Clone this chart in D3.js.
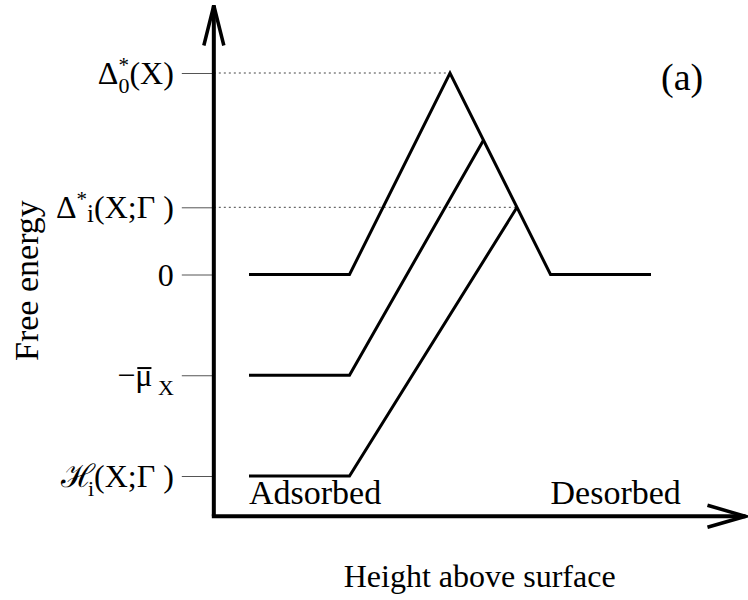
<!DOCTYPE html>
<html>
<head>
<meta charset="utf-8">
<script src="https://cdn.jsdelivr.net/npm/d3@7"></script>
<style>
    body { margin: 0; background: #fff; }
    svg text { font-family: "Liberation Serif", "Times New Roman", serif; fill: #000; }
</style>
</head>
<body>
<svg id="chart" width="748" height="600"></svg>
<script>
//*************************************************
// Data (arbitrary units)
//*************************************************
var profileTopX = [0, 1, 2, 3, 4];
var profileTopY = [0, 0, 2, 0, 0];
var profileMidX = [0, 1, 2.333];
var profileMidY = [-1, -1, 1.333];
var profileLowX = [0, 1, 2.667];
var profileLowY = [-2, -2, 0.667];

// dotted guides from the axis out to a peak
var guideY = [2, 0.667];
var guideX = [2, 2.667];

var tickValues = [2, 0.667, 0, -1, -2];
// each label is a list of [text, role]
var tickLabels = [
    [['Δ', ''], ['*', 'sup'], ['0', 'under'], ['(X)', '']],
    [['Δ', ''], ['*', 'sup'], ['i', 'low'], ['(X;Γ )', '']],
    [['0', '']],
    [['−', ''], ['μ', 'bar'], [' X', 'sub']],
    [['ℋ', ''], ['i', 'tuck'], ['(X;Γ )', '']]
];

var xTitle = 'Height above surface';
var yTitle = 'Free energy';
var leftNote = 'Adsorbed';
var rightNote = 'Desorbed';
var panelTag = '(a)';

function energyChart(){

    //*************************************************
    // Public Variables loaded with default values
    //*************************************************
    var _width = 748;
    var _height = 600;
    var _fontSize = 32;

    function chart(selection){
        selection.each(function (data){
            var svg = d3.select(this);

            var x = d3.scaleLinear().domain([0, 4]).range([249, 651]);
            var y = d3.scaleLinear().domain([-2, 2]).range([476, 73]);

            var axisX0 = x(-0.35);
            var axisX1 = x(4.94);
            var axisY0 = y(-2.4);
            var axisY1 = y(2.67);

            //----------------------------------------------------------------------------------
            // dotted guides
            //----------------------------------------------------------------------------------
            svg.selectAll('.guide').data(guideY).enter().append('line')
                .attr('class', 'guide')
                .attr('x1', axisX0).attr('x2', function (d, i){ return x(guideX[i]); })
                .attr('y1', function (d){ return y(d); }).attr('y2', function (d){ return y(d); })
                .style('stroke', '#444').style('stroke-width', 1).style('stroke-dasharray', '2,3');

            //----------------------------------------------------------------------------------
            // ticks via d3 axis, labels built by hand (sub/superscripts)
            //----------------------------------------------------------------------------------
            var yAxis = d3.axisLeft(y).tickValues(tickValues).tickSize(32).tickFormat('');
            var axisG = svg.append('g')
                .attr('transform', 'translate(' + axisX0 + ',0)')
                .call(yAxis);
            axisG.select('.domain').remove();
            axisG.selectAll('.tick line').style('stroke', '#555').style('stroke-width', 1);

            tickValues.forEach(function (v, i){
                var t = svg.append('text')
                    .attr('x', axisX0 - 40)
                    .attr('y', y(v) + 11)
                    .attr('text-anchor', 'end')
                    .style('font-size', _fontSize + 'px');
                var shift = 0;
                var prev = null;
                var barred = [];
                tickLabels[i].forEach(function (seg){
                    var role = seg[1];
                    var target = 0;
                    var size = _fontSize;
                    if (role === 'sup'){ target = -12; size = 21; }
                    if (role === 'sub' || role === 'under'){ target = 9; size = 22; }
                    if (role === 'tuck'){ target = 9; size = 22; }
                    if (role === 'low'){ target = 4; size = 25; }
                    var ts = t.append('tspan')
                        .attr('dy', target - shift)
                        .style('font-size', size + 'px')
                        .text(seg[0]);
                    if (role === 'under' && prev){
                        ts.attr('dx', -prev.node().getComputedTextLength());
                    }
                    if (role === 'tuck'){
                        ts.attr('dx', -7);
                    }
                    if (role === 'bar'){ barred.push(ts); }
                    shift = target;
                    prev = ts;
                });
                // overbar above the barred glyph
                barred.forEach(function (ts){
                    var r = ts.node().getExtentOfChar(0);
                    var by = r.y + r.height * 0.3;
                    svg.append('line')
                        .attr('x1', r.x + 2).attr('x2', r.x + r.width - 1)
                        .attr('y1', by).attr('y2', by)
                        .style('stroke', '#000').style('stroke-width', 2);
                });
            });

            //----------------------------------------------------------------------------------
            // energy profiles
            //----------------------------------------------------------------------------------
            var line = d3.line()
                .x(function (d){ return x(d[0]); })
                .y(function (d){ return y(d[1]); });

            var profiles = [
                d3.zip(profileTopX, profileTopY),
                d3.zip(profileMidX, profileMidY),
                d3.zip(profileLowX, profileLowY)
            ];
            svg.selectAll('.profile').data(profiles).enter().append('path')
                .attr('class', 'profile')
                .attr('d', line)
                .style('fill', 'none').style('stroke', '#000').style('stroke-width', 3)
                .style('stroke-linejoin', 'miter');

            //----------------------------------------------------------------------------------
            // axes with open arrow heads
            //----------------------------------------------------------------------------------
            var axisStyle = function (sel){
                sel.style('fill', 'none').style('stroke', '#000').style('stroke-width', 4);
            };
            svg.append('path')
                .attr('d', 'M' + axisX0 + ',' + axisY0 + 'L' + axisX0 + ',' + axisY1)
                .call(axisStyle);
            svg.append('path')
                .attr('d', 'M' + (axisX0 - 10) + ',' + (axisY1 + 40) + 'L' + axisX0 + ',' + axisY1 + 'L' + (axisX0 + 10) + ',' + (axisY1 + 40))
                .call(axisStyle).style('stroke-width', 3.5);
            svg.append('path')
                .attr('d', 'M' + (axisX0 - 2) + ',' + axisY0 + 'L' + axisX1 + ',' + axisY0)
                .call(axisStyle);
            svg.append('path')
                .attr('d', 'M' + (axisX1 - 38) + ',' + (axisY0 - 11) + 'L' + axisX1 + ',' + axisY0 + 'L' + (axisX1 - 38) + ',' + (axisY0 + 11))
                .call(axisStyle).style('stroke-width', 3.5);

            //----------------------------------------------------------------------------------
            // titles and notes
            //----------------------------------------------------------------------------------
            svg.append('text')
                .attr('transform', 'translate(38,' + y(-0.06) + ') rotate(-90)')
                .attr('text-anchor', 'middle')
                .style('font-size', '34px')
                .text(yTitle);
            svg.append('text')
                .attr('x', (axisX0 + axisX1) / 2).attr('y', axisY0 + 71)
                .attr('text-anchor', 'middle')
                .style('font-size', '32px')
                .text(xTitle);
            svg.append('text')
                .attr('x', x(0)).attr('y', axisY0 - 12)
                .style('font-size', '34px')
                .text(leftNote);
            svg.append('text')
                .attr('x', x(3)).attr('y', axisY0 - 12)
                .style('font-size', '34px')
                .text(rightNote);
            svg.append('text')
                .attr('x', x(4.1)).attr('y', y(1.83))
                .style('font-size', '38px')
                .text(panelTag);
        });
    }

    chart.width = function (value){
        if (!arguments.length){ return _width; }
        _width = value;
        return chart;
    };
    chart.height = function (value){
        if (!arguments.length){ return _height; }
        _height = value;
        return chart;
    };

    return chart;
}

d3.select('#chart').datum([]).call(energyChart());
</script>
</body>
</html>
